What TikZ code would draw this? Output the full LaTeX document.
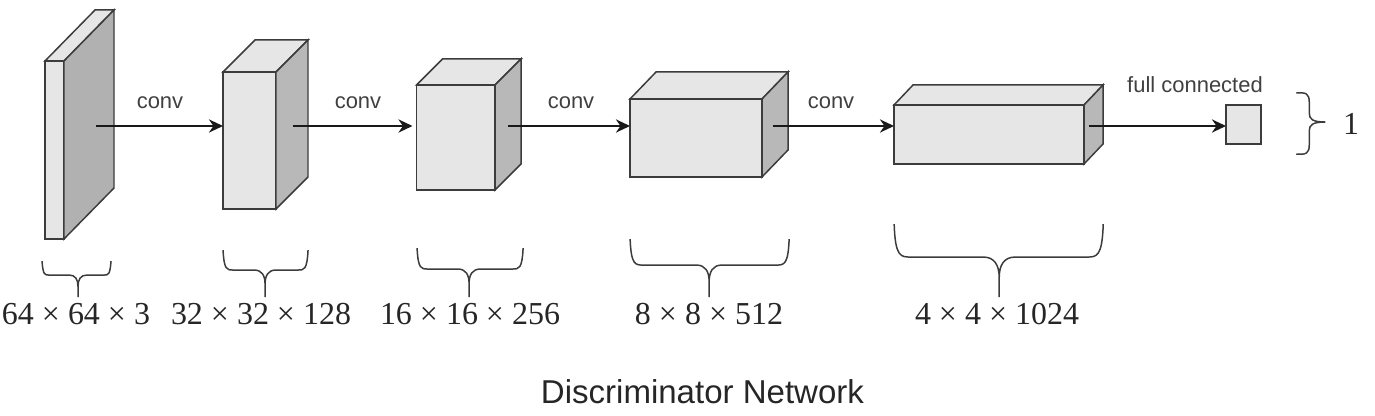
\documentclass[tikz,border=0pt]{standalone}
\usepackage{fontspec}
\usepackage{amsmath}
\setmainfont{Liberation Sans}
\newfontfamily\dimfont{Liberation Serif}
\usetikzlibrary{positioning,arrows.meta}

\definecolor{facelight}{HTML}{E6E6E6}
\definecolor{facedark}{HTML}{B8B8B8}
\definecolor{edgegrey}{HTML}{3C3C3C}

\tikzset{
    front/.style={draw=edgegrey, line width=0.85pt, fill=facelight, inner sep=0pt, outer sep=0pt},
    flow/.style={-{Stealth[length=8pt,width=7.5pt]}, line width=1.25pt, black!90},
    curly/.style={draw=edgegrey, line width=0.85pt},
    conv/.style={font=\fontsize{12.5}{14}\selectfont, text=black!75},
    dimlabel/.style={font=\dimfont\fontsize{18.2}{21}\selectfont, text=black!85},
}

% top and side face of a block: front node, x and y depth, side colour
\newcommand{\blockfaces}[4]{
    \draw [front, fill=facelight] (#1.north west) -- ([shift={(#2,#3)}]#1.north west) -- ([shift={(#2,#3)}]#1.north east) -- (#1.north east) -- cycle;
    \draw [front, fill=#4] (#1.north east) -- ([shift={(#2,#3)}]#1.north east) -- ([shift={(#2,#3)}]#1.south east) -- (#1.south east) -- cycle;
}
% brace under a block: left x, right x, top y, middle y, tip x, tip y (pixels)
\newcommand{\dimbrace}[6]{
    \pgfmathsetmacro{\rad}{0.5*(#4-#3)}
    \pgfmathsetmacro{\cusp}{0.4*(#6-#4)}
    \draw [curly, x=0.02cm, y=-0.02cm]
        (#1,#3) .. controls ({#1+1},#4) and ({#1+0.4*\rad},#4) .. ({#1+\rad},#4)
        -- ({#5-\cusp},#4) .. controls ({#5-0.3*\cusp},#4) and (#5,{#4+0.5*\cusp}) .. (#5,{#4+1.3*\cusp})
        -- (#5,#6)
        (#5,{#4+1.3*\cusp}) .. controls (#5,{#4+0.5*\cusp}) and ({#5+0.3*\cusp},#4) .. ({#5+\cusp},#4)
        -- ({#2-\rad},#4) .. controls ({#2-0.4*\rad},#4) and ({#2-1},#4) .. (#2,#3);
}

\begin{document}
\begin{tikzpicture}[]
    \useasboundingbox (0,0) rectangle (27.5,-8.32);
    \node [front, minimum width=0.38cm, minimum height=3.56cm] (input) at (1.09,-3.00) {};
    \node [front, minimum width=1.06cm, minimum height=2.74cm, right=3.18cm of input, yshift=0.19cm] (convA) {};
    \node [front, minimum width=1.57cm, minimum height=2.10cm, right=2.81cm of convA, yshift=0.06cm] (convB) {};
    \node [front, minimum width=2.64cm, minimum height=1.56cm, right=2.70cm of convB, yshift=-0.01cm] (convC) {};
    \node [front, minimum width=3.80cm, minimum height=1.18cm, right=2.64cm of convC, yshift=0.07cm] (convD) {};
    \node [front, minimum width=0.70cm, minimum height=0.78cm, right=2.84cm of convD, yshift=0.20cm] (output) {};
    \blockfaces{input}{1.00}{1.02}{facedark!96!black}
    \blockfaces{convA}{0.64}{0.64}{facedark}
    \blockfaces{convB}{0.52}{0.52}{facedark}
    \blockfaces{convC}{0.52}{0.54}{facedark}
    \blockfaces{convD}{0.38}{0.40}{facedark}
    % arrows leave from inside the side faces
    \coordinate (startA) at (1.92,-2.52);
    \coordinate (startB) at (5.86,-2.52);
    \coordinate (startC) at (10.16,-2.52);
    \coordinate (startD) at (15.46,-2.52);
    \coordinate (startE) at (21.78,-2.52);
    \draw [flow] (startA) -- (startA -| convA.west);
    \draw [flow] (startB) -- ([xshift=-0.08cm]startB -| convB.west);
    \draw [flow] (startC) -- (startC -| convC.west);
    \draw [flow] (startD) -- (startD -| convD.west);
    \draw [flow] (startE) -- (startE -| output.west);
    \node [conv] (labelA) at (3.20,-2.06) {conv};
    \node [conv] (labelB) at (7.16,-2.06) {conv};
    \node [conv] (labelC) at (11.42,-2.06) {conv};
    \node [conv] (labelD) at (16.62,-2.06) {conv};
    \node [conv] (labelE) at (23.90,-1.70) {full connected};
    \dimbrace{42}{111}{261}{275}{78}{297}
    \dimbrace{223}{308}{250}{270}{265}{297}
    \dimbrace{417}{523}{248}{269}{469}{297}
    \dimbrace{630}{789}{239}{265}{709}{297}
    \dimbrace{894}{1103}{224}{257}{999}{297}
    \node [dimlabel] (dimA) at (1.52,-6.28) {64 × 64 × 3};
    \node [dimlabel] (dimB) at (5.22,-6.28) {32 × 32 × 128};
    \node [dimlabel] (dimC) at (9.40,-6.28) {16 × 16 × 256};
    \node [dimlabel] (dimD) at (14.18,-6.28) {8 × 8 × 512};
    \node [dimlabel] (dimE) at (19.94,-6.28) {4 × 4 × 1024};
    % closing brace of the last layer
    \draw [curly, x=0.02cm, y=-0.02cm]
        (1296,93) .. controls (1306,92) and (1309,94) .. (1309,102) -- (1309,113)
        .. controls (1309,119) and (1312,122) .. (1325,122)
        (1309,131) .. controls (1309,125) and (1312,122) .. (1325,122)
        (1296,154) .. controls (1306,155) and (1309,153) .. (1309,145) -- (1309,131);
    \node [dimlabel] (one) at (27.02,-2.48) {1};
    \node [font=\fontsize{18.8}{22}\selectfont, text=black!85] (title) at (14.05,-7.84) {Discriminator Network};
\end{tikzpicture}
\end{document}
